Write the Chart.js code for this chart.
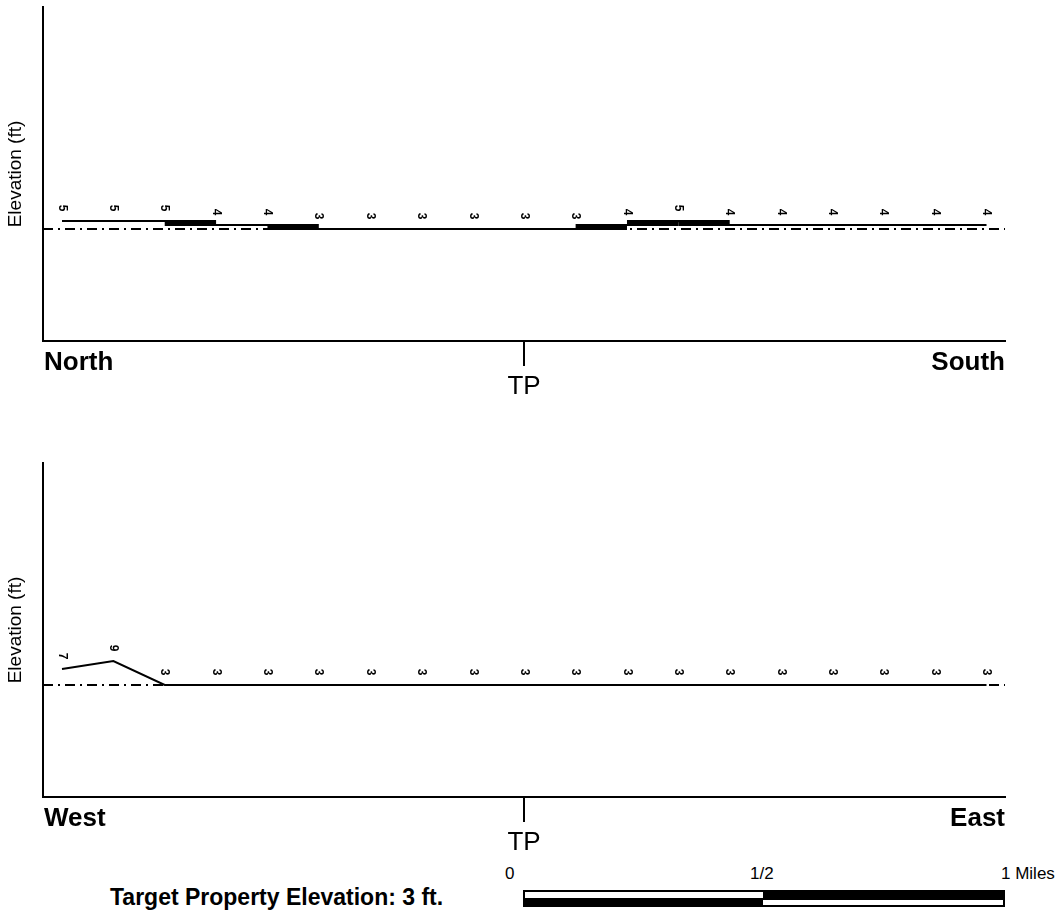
<!DOCTYPE html>
<html>
<head>
<meta charset="utf-8">
<script src="https://cdn.jsdelivr.net/npm/chart.js@4.4.1/dist/chart.umd.min.js"></script>
<style>
  html, body { margin: 0; padding: 0; background: #fff; }
  body { width: 1055px; height: 915px; position: relative; overflow: hidden; font-family: "Liberation Sans", Arial, sans-serif; }
  canvas { position: absolute; left: 0; }
  #c1 { top: 0; }
  #c2 { top: 456px; }
  .txt { position: absolute; color: #000; white-space: nowrap; line-height: 1; }
  .sb { position: absolute; box-sizing: border-box; }
</style>
</head>
<body>
<canvas id="c1" width="1055" height="400"></canvas>
<canvas id="c2" width="1055" height="400"></canvas>

<div class="txt" id="sb0" style="left:505px; top:865px; font-size:17px;"></div>
<div class="txt" id="sb1" style="left:750px; top:865px; font-size:17px;"></div>
<div class="txt" id="sb2" style="left:1001px; top:865px; font-size:17px;"></div>
<div class="sb" style="left:523px; top:890px; width:242px; height:10px; border:2px solid #000; background:#fff;"></div>
<div class="sb" style="left:765px; top:890px; width:240px; height:10px; background:#000;"></div>
<div class="sb" style="left:523px; top:898px; width:242px; height:9px; background:#000;"></div>
<div class="sb" style="left:763px; top:898px; width:242px; height:9px; border:2px solid #000; border-left:none; background:#fff;"></div>
<div class="txt" id="footer" style="left:110px; top:886px; font-size:23px; font-weight:bold;"></div>

<script>
// ---- data ----
const topValues = [5, 5, 5, 4, 4, 3, 3, 3, 3, 3, 3, 4, 5, 4, 4, 4, 4, 4, 4];
const bottomValues = [7, 9, 3, 3, 3, 3, 3, 3, 3, 3, 3, 3, 3, 3, 3, 3, 3, 3, 3];
const targetElevation = 3;
const topEnds = ['North', 'South'];
const bottomEnds = ['West', 'East'];
const centerLabel = 'TP';
const yTitle = 'Elevation (ft)';
const scaleBarLabels = ['0', '1/2', '1 Miles'];
const footerText = 'Target Property Elevation: 3 ft.';

const FONT = '"Liberation Sans", Arial, sans-serif';
const xMin = -0.37, xMax = 18.36;
const yMin = -25, yMax = 58.5;

document.getElementById('sb0').textContent = scaleBarLabels[0];
document.getElementById('sb1').textContent = scaleBarLabels[1];
document.getElementById('sb2').textContent = scaleBarLabels[2];
document.getElementById('footer').textContent = footerText;

function makeChart(id, values, ends) {
  const centerIndex = Math.floor(values.length / 2);
  const labelPlugin = {
    id: 'profileLabels' + id,
    afterDatasetsDraw(chart) {
      const ctx = chart.ctx;
      const meta = chart.getDatasetMeta(1);
      ctx.save();
      ctx.fillStyle = '#000';
      // one-foot steps are rendered as solid blocks, as in the source figure
      for (let i = 1; i < meta.data.length; i++) {
        const p0 = meta.data[i - 1], p1 = meta.data[i];
        if (Math.abs(values[i] - values[i - 1]) === 1) {
          const top = Math.min(p0.y, p1.y) - 1;
          ctx.fillRect(p0.x, top, p1.x - p0.x, Math.abs(p1.y - p0.y) + 2);
        }
      }
      ctx.font = 'bold 12px ' + FONT;
      ctx.textAlign = 'center';
      ctx.textBaseline = 'middle';
      meta.data.forEach((pt, i) => {
        ctx.save();
        ctx.translate(pt.x, pt.y - 13);
        ctx.rotate(Math.PI / 2);
        ctx.fillText(String(values[i]), 0, 0);
        ctx.restore();
      });
      ctx.restore();
    },
    afterDraw(chart) {
      const ctx = chart.ctx;
      const a = chart.chartArea;
      const xs = chart.scales.x;
      const tx = Math.round(xs.getPixelForValue(centerIndex));
      ctx.save();
      ctx.strokeStyle = '#000';
      ctx.lineWidth = 2;
      ctx.beginPath();
      ctx.moveTo(tx, a.bottom);
      ctx.lineTo(tx, a.bottom + 25);
      ctx.stroke();
      ctx.fillStyle = '#000';
      ctx.textBaseline = 'alphabetic';
      ctx.font = 'bold 26px ' + FONT;
      ctx.textAlign = 'left';
      ctx.fillText(ends[0], a.left + 1, a.bottom + 29);
      ctx.textAlign = 'right';
      ctx.fillText(ends[1], a.right, a.bottom + 29);
      ctx.font = '26px ' + FONT;
      ctx.textAlign = 'center';
      ctx.fillText(centerLabel, tx, a.bottom + 53);
      ctx.restore();
    }
  };

  const pts = values.map((v, i) => ({ x: i, y: v }));
  return new Chart(document.getElementById(id), {
    type: 'line',
    data: {
      datasets: [
        {
          data: [{ x: xMin, y: targetElevation }, { x: xMax, y: targetElevation }],
          borderColor: '#000',
          borderWidth: 2,
          borderDash: [10, 5, 2, 5],
          pointRadius: 0,
          fill: false
        },
        {
          data: pts,
          borderColor: '#000',
          borderWidth: 2,
          pointRadius: 0,
          fill: false,
          tension: 0
        }
      ]
    },
    options: {
      responsive: false,
      animation: false,
      devicePixelRatio: 1,
      layout: { padding: { top: 7, right: 50, left: 0, bottom: 0 } },
      plugins: { legend: { display: false }, tooltip: { enabled: false } },
      scales: {
        x: {
          type: 'linear',
          min: xMin, max: xMax,
          grid: { display: false },
          border: { display: true, color: '#000', width: 2 },
          ticks: { display: false },
          afterFit: s => { s.height = 59; }
        },
        y: {
          type: 'linear',
          min: yMin, max: yMax,
          grid: { display: false },
          border: { display: true, color: '#000', width: 2 },
          ticks: { display: false },
          title: { display: true, text: yTitle, color: '#000', font: { family: FONT, size: 19 }, padding: { top: 4, bottom: 0 } },
          afterFit: s => { s.width = 43; }
        }
      }
    },
    plugins: [labelPlugin]
  });
}

makeChart('c1', topValues, topEnds);
makeChart('c2', bottomValues, bottomEnds);
</script>
</body>
</html>
